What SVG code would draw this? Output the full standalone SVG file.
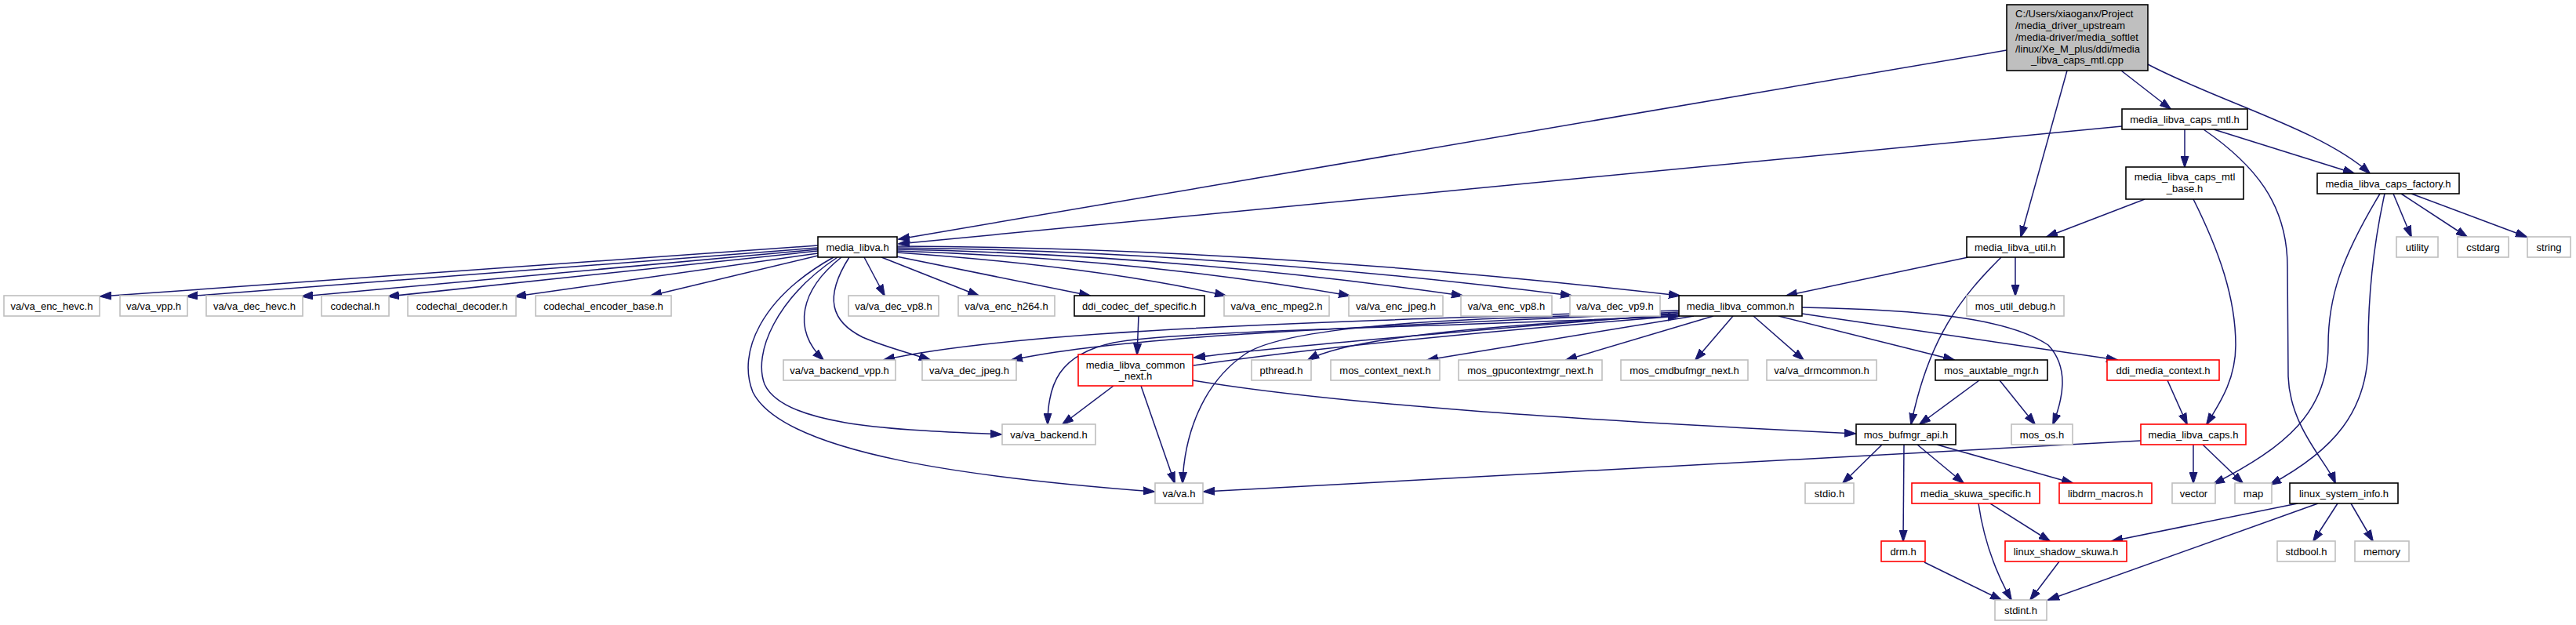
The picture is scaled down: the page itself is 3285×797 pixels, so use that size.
<svg xmlns="http://www.w3.org/2000/svg" width="3285" height="797" viewBox="0 0 3285 797">
<style>
text{font-family:"Liberation Sans",Arial,sans-serif;font-size:13px;fill:#000;text-anchor:middle}
.l{text-anchor:start}
rect{fill:#fff;stroke-width:1.6}
.k{stroke:#000}
.g{stroke:#bfbfbf}
.r{stroke:#ff0000}
.root{fill:#bfbfbf;stroke:#000}
#edges path{fill:none;stroke:#191970;stroke-width:1.5;marker-end:url(#a)}
</style>
<defs>
<marker id="a" markerWidth="15" markerHeight="11" refX="14" refY="5.5" orient="auto" markerUnits="userSpaceOnUse"><path d="M0,0.5 L15,5.5 L0,10.5 z" fill="#191970" stroke="#191970" stroke-width="1"/></marker>
</defs>
<rect x="0" y="0" width="3285" height="797" style="fill:#fff;stroke:none"/>
<g id="edges">
<path d="M2559,64 L1146,305"/>
<path d="M2636,90 L2577,302"/>
<path d="M2705,90 L2768,139"/>
<path d="M2739,82 C2830,130 2960,165 3022,221"/>
<path d="M2706,161 L1146,311"/>
<path d="M2786,165 L2786,213"/>
<path d="M2823,165 L3002,221"/>
<path d="M2810,165 C2875,210 2917,260 2917,340 L2918,480 C2920,545 2968,590 2978,616"/>
<path d="M2735,254 L2610,302"/>
<path d="M2797,254 C2830,320 2851,380 2851,440 C2851,485 2830,515 2814,541"/>
<path d="M3052,247 L3075,302"/>
<path d="M3062,247 L3146,302"/>
<path d="M3075,247 L3222,302"/>
<path d="M3035,247 C2985,330 2969,380 2969,440 C2969,525 2915,570 2823,617"/>
<path d="M3041,247 C3025,320 3020,380 3020,440 C3020,525 2975,575 2895,618"/>
<path d="M2510,328 L2278,377"/>
<path d="M2570,328 L2570,377"/>
<path d="M2552,328 C2500,380 2460,430 2437,541"/>
<path d="M1043,313 L128,378"/>
<path d="M1043,316 L238,378"/>
<path d="M1043,318 L385,378"/>
<path d="M1043,320 L495,378"/>
<path d="M1043,323 L657,378"/>
<path d="M1043,326 L830,377"/>
<path d="M1102,328 L1128,377"/>
<path d="M1124,328 L1248,377"/>
<path d="M1143,327 L1390,377"/>
<path d="M1144,322 Q1400,340 1563,377"/>
<path d="M1144,320 Q1450,330 1721,377"/>
<path d="M1144,318 Q1500,325 1865,377"/>
<path d="M1144,316 Q1550,320 2004,377"/>
<path d="M1144,314 Q1600,315 2142,377"/>
<path d="M1073,328 C1020,370 1010,420 1050,459"/>
<path d="M1083,328 C1050,380 1060,410 1100,430 C1130,443 1160,450 1186,459"/>
<path d="M1068,328 C990,380 960,450 975,490 C1000,545 1150,548 1277,554"/>
<path d="M1063,328 C970,380 940,450 960,500 C1000,580 1250,610 1472,627"/>
<path d="M2141,396 C1700,410 1300,420 1127,459"/>
<path d="M2141,398 C1800,415 1450,425 1290,459"/>
<path d="M2141,400 C1900,420 1650,440 1523,456"/>
<path d="M1522,466 C1700,440 1950,418 2141,403"/>
<path d="M2141,402 C1900,415 1720,430 1668,459"/>
<path d="M2160,403 L1820,459"/>
<path d="M2185,403 L1997,459"/>
<path d="M2210,403 L2162,459"/>
<path d="M2236,403 L2300,459"/>
<path d="M2268,403 L2492,459"/>
<path d="M2298,400 L2700,459"/>
<path d="M2298,392 C2450,395 2560,405 2612,440 C2640,470 2630,510 2618,541"/>
<path d="M2141,403 C1800,418 1500,422 1420,437 C1350,452 1336,490 1336,541"/>
<path d="M2141,400 C1800,405 1640,420 1590,450 C1530,490 1510,560 1508,616"/>
<path d="M1452,403 L1450,452"/>
<path d="M1420,492 L1355,541"/>
<path d="M1455,492 L1498,616"/>
<path d="M1521,485 C1700,515 2000,535 2366,553"/>
<path d="M2524,485 L2448,541"/>
<path d="M2550,485 L2595,541"/>
<path d="M2764,485 L2789,541"/>
<path d="M2400,567 L2350,616"/>
<path d="M2428,567 L2427,690"/>
<path d="M2445,567 L2504,616"/>
<path d="M2470,567 L2643,616"/>
<path d="M2730,562 L1535,627"/>
<path d="M2797,567 L2797,616"/>
<path d="M2809,567 L2860,616"/>
<path d="M2538,642 L2614,690"/>
<path d="M2523,642 C2530,690 2545,730 2565,765"/>
<path d="M2454,717 L2552,765"/>
<path d="M2626,716 L2589,765"/>
<path d="M2930,642 L2693,690"/>
<path d="M2956,642 L2612,765"/>
<path d="M2981,642 L2950,690"/>
<path d="M2998,642 L3026,690"/>
</g>
<g id="n_root"><rect class="root" x="2559" y="6" width="180" height="84"/>
<text class="l" x="2570" y="22">C:/Users/xiaoganx/Project</text>
<text class="l" x="2570" y="37">/media_driver_upstream</text>
<text class="l" x="2570" y="52">/media-driver/media_softlet</text>
<text class="l" x="2570" y="66.5">/linux/Xe_M_plus/ddi/media</text>
<text x="2649" y="81">_libva_caps_mtl.cpp</text></g>
<g id="n_caps_mtl"><rect class="k" x="2706" y="139" width="160" height="26"/><text x="2786" y="157">media_libva_caps_mtl.h</text></g>
<g id="n_caps_mtl_base"><rect class="k" x="2711" y="213" width="150" height="41"/><text x="2786" y="230">media_libva_caps_mtl</text><text x="2786" y="245">_base.h</text></g>
<g id="n_factory"><rect class="k" x="2955" y="221" width="181" height="26"/><text x="3045.5" y="239">media_libva_caps_factory.h</text></g>
<g id="n_util"><rect class="k" x="2508" y="302" width="124" height="26"/><text x="2570" y="320">media_libva_util.h</text></g>
<g id="n_utility"><rect class="g" x="3056" y="302" width="53" height="26"/><text x="3082.5" y="320">utility</text></g>
<g id="n_cstdarg"><rect class="g" x="3134" y="302" width="65" height="26"/><text x="3166.5" y="320">cstdarg</text></g>
<g id="n_string"><rect class="g" x="3223" y="302" width="55" height="26"/><text x="3250.5" y="320">string</text></g>
<g id="n_media_libva"><rect class="k" x="1043" y="302" width="101" height="26"/><text x="1093.5" y="320">media_libva.h</text></g>
<g id="n_va_enc_hevc"><rect class="g" x="5" y="377" width="122" height="26"/><text x="66" y="395">va/va_enc_hevc.h</text></g>
<g id="n_va_vpp"><rect class="g" x="153" y="377" width="86" height="26"/><text x="196" y="395">va/va_vpp.h</text></g>
<g id="n_va_dec_hevc"><rect class="g" x="263" y="377" width="123" height="26"/><text x="324.5" y="395">va/va_dec_hevc.h</text></g>
<g id="n_codechal"><rect class="g" x="410" y="377" width="86" height="26"/><text x="453" y="395">codechal.h</text></g>
<g id="n_codechal_decoder"><rect class="g" x="520" y="377" width="138" height="26"/><text x="589" y="395">codechal_decoder.h</text></g>
<g id="n_codechal_encoder_base"><rect class="g" x="683" y="377" width="173" height="26"/><text x="769.5" y="395">codechal_encoder_base.h</text></g>
<g id="n_va_dec_vp8"><rect class="g" x="1082" y="377" width="115" height="26"/><text x="1139.5" y="395">va/va_dec_vp8.h</text></g>
<g id="n_va_enc_h264"><rect class="g" x="1222" y="377" width="123" height="26"/><text x="1283.5" y="395">va/va_enc_h264.h</text></g>
<g id="n_ddi_codec_def_specific"><rect class="k" x="1370" y="377" width="166" height="26"/><text x="1453" y="395">ddi_codec_def_specific.h</text></g>
<g id="n_va_enc_mpeg2"><rect class="g" x="1561" y="377" width="134" height="26"/><text x="1628" y="395">va/va_enc_mpeg2.h</text></g>
<g id="n_va_enc_jpeg"><rect class="g" x="1720" y="377" width="120" height="26"/><text x="1780" y="395">va/va_enc_jpeg.h</text></g>
<g id="n_va_enc_vp8"><rect class="g" x="1863" y="377" width="116" height="26"/><text x="1921" y="395">va/va_enc_vp8.h</text></g>
<g id="n_va_dec_vp9"><rect class="g" x="2002" y="377" width="115" height="26"/><text x="2059.5" y="395">va/va_dec_vp9.h</text></g>
<g id="n_media_libva_common"><rect class="k" x="2141" y="377" width="157" height="26"/><text x="2219.5" y="395">media_libva_common.h</text></g>
<g id="n_mos_util_debug"><rect class="g" x="2508" y="377" width="124" height="26"/><text x="2570" y="395">mos_util_debug.h</text></g>
<g id="n_va_backend_vpp"><rect class="g" x="999" y="459" width="143" height="26"/><text x="1070.5" y="477">va/va_backend_vpp.h</text></g>
<g id="n_va_dec_jpeg"><rect class="g" x="1176" y="459" width="120" height="26"/><text x="1236" y="477">va/va_dec_jpeg.h</text></g>
<g id="n_media_libva_common_next"><rect class="r" x="1375" y="452" width="146" height="40"/><text x="1448" y="469.5">media_libva_common</text><text x="1448" y="484">_next.h</text></g>
<g id="n_pthread"><rect class="g" x="1596" y="459" width="76" height="26"/><text x="1634" y="477">pthread.h</text></g>
<g id="n_mos_context_next"><rect class="g" x="1697" y="459" width="139" height="26"/><text x="1766.5" y="477">mos_context_next.h</text></g>
<g id="n_mos_gpucontextmgr_next"><rect class="g" x="1860" y="459" width="183" height="26"/><text x="1951.5" y="477">mos_gpucontextmgr_next.h</text></g>
<g id="n_mos_cmdbufmgr_next"><rect class="g" x="2067" y="459" width="162" height="26"/><text x="2148" y="477">mos_cmdbufmgr_next.h</text></g>
<g id="n_va_drmcommon"><rect class="g" x="2253" y="459" width="140" height="26"/><text x="2323" y="477">va/va_drmcommon.h</text></g>
<g id="n_mos_auxtable_mgr"><rect class="k" x="2468" y="459" width="143" height="26"/><text x="2539.5" y="477">mos_auxtable_mgr.h</text></g>
<g id="n_ddi_media_context"><rect class="r" x="2687" y="459" width="143" height="26"/><text x="2758.5" y="477">ddi_media_context.h</text></g>
<g id="n_va_backend"><rect class="g" x="1278" y="541" width="119" height="26"/><text x="1337.5" y="559">va/va_backend.h</text></g>
<g id="n_mos_bufmgr_api"><rect class="k" x="2367" y="541" width="127" height="26"/><text x="2430.5" y="559">mos_bufmgr_api.h</text></g>
<g id="n_mos_os"><rect class="g" x="2565" y="541" width="78" height="26"/><text x="2604" y="559">mos_os.h</text></g>
<g id="n_media_libva_caps"><rect class="r" x="2730" y="541" width="134" height="26"/><text x="2797" y="559">media_libva_caps.h</text></g>
<g id="n_va_va"><rect class="g" x="1473" y="616" width="61" height="26"/><text x="1503.5" y="634">va/va.h</text></g>
<g id="n_stdio"><rect class="g" x="2302" y="616" width="62" height="26"/><text x="2333" y="634">stdio.h</text></g>
<g id="n_media_skuwa_specific"><rect class="r" x="2438" y="616" width="163" height="26"/><text x="2519.5" y="634">media_skuwa_specific.h</text></g>
<g id="n_libdrm_macros"><rect class="r" x="2626" y="616" width="118" height="26"/><text x="2685" y="634">libdrm_macros.h</text></g>
<g id="n_vector"><rect class="g" x="2770" y="616" width="55" height="26"/><text x="2797.5" y="634">vector</text></g>
<g id="n_map"><rect class="g" x="2850" y="616" width="47" height="26"/><text x="2873.5" y="634">map</text></g>
<g id="n_linux_system_info"><rect class="k" x="2920" y="616" width="138" height="26"/><text x="2989" y="634">linux_system_info.h</text></g>
<g id="n_drm"><rect class="r" x="2399" y="690" width="56" height="26"/><text x="2427" y="708">drm.h</text></g>
<g id="n_linux_shadow_skuwa"><rect class="r" x="2557" y="690" width="155" height="26"/><text x="2634.5" y="708">linux_shadow_skuwa.h</text></g>
<g id="n_stdbool"><rect class="g" x="2904" y="690" width="74" height="26"/><text x="2941" y="708">stdbool.h</text></g>
<g id="n_memory"><rect class="g" x="3003" y="690" width="69" height="26"/><text x="3037.5" y="708">memory</text></g>
<g id="n_stdint"><rect class="g" x="2544" y="765" width="66" height="26"/><text x="2577" y="783">stdint.h</text></g>
</svg>
